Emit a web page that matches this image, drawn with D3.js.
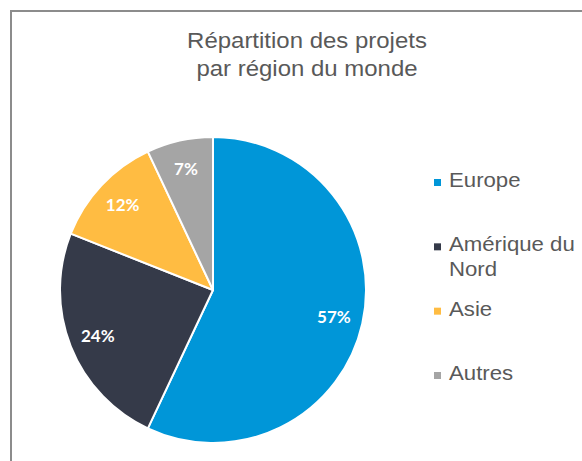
<!DOCTYPE html>
<html>
  <head>
    <meta charset="utf-8" />
    <script src="https://cdn.jsdelivr.net/npm/d3@7/dist/d3.min.js"></script>
    <style>
      * {
        margin: 0;
        padding: 0;
        box-sizing: border-box;
      }
      body {
        background: white;
        width: 582px;
        height: 461px;
        overflow: hidden;
      }
    </style>
  </head>
  <body>
    <script>
      const regions = ["Europe", "Amérique du Nord", "Asie", "Autres"];
      const shares = [57, 24, 12, 7];
      const colors = ["#0096d8", "#353a49", "#ffbc42", "#a5a5a5"];
      const legendLines = [["Europe"], ["Amérique du", "Nord"], ["Asie"], ["Autres"]];
      const titleLines = ["Répartition des projets", "par région du monde"];

      const w = 582;
      const h = 461;
      const cx = 213;
      const cy = 290;
      const r = 153;

      const svg = d3
        .select("body")
        .append("svg")
        .attr("width", w)
        .attr("height", h);

      // chart frame
      svg
        .append("rect")
        .attr("x", 11)
        .attr("y", 11)
        .attr("width", w + 20)
        .attr("height", h + 20)
        .attr("fill", "white")
        .attr("stroke", "#8c8c8c")
        .attr("stroke-width", 2);

      svg
        .append("g")
        .attr("transform", "translate(307,0) scale(1.09,1)")
        .append("text")
        .attr("text-anchor", "middle")
        .attr("font-family", "'Liberation Sans', Arial, sans-serif")
        .attr("font-size", 22)
        .attr("fill", "#595959")
        .selectAll("tspan")
        .data(titleLines)
        .enter()
        .append("tspan")
        .attr("x", 0)
        .attr("y", (d, i) => 48 + i * 28)
        .text((d) => d);

      const pie = d3.pie().sort(null).value((d) => d);
      const arcs = pie(shares);
      const arc = d3.arc().innerRadius(0).outerRadius(r);
      const labelArc = d3.arc().innerRadius(r * 0.81).outerRadius(r * 0.81);

      const g = svg
        .append("g")
        .attr("transform", "translate(" + cx + "," + cy + ")");

      g.selectAll("path")
        .data(arcs)
        .enter()
        .append("path")
        .attr("d", arc)
        .attr("fill", (d, i) => colors[i])
        .attr("stroke", "white")
        .attr("stroke-width", 2)
        .attr("stroke-linejoin", "round");

      g.selectAll(".lbl")
        .data(arcs)
        .enter()
        .append("text")
        .attr("class", "lbl")
        .attr("transform", (d) => "translate(" + labelArc.centroid(d) + ")")
        .attr("text-anchor", "middle")
        .attr("dy", "0.36em")
        .attr("font-family", "Lato, sans-serif")
        .attr("font-weight", "bold")
        .attr("font-size", 17)
        .attr("fill", "white")
        .text((d) => d.data + "%");

      // legend
      const legendY = d3
        .scalePoint()
        .domain(regions)
        .range([187, 380]);

      const item = svg
        .selectAll(".legend")
        .data(regions)
        .enter()
        .append("g")
        .attr("class", "legend")
        .attr("transform", (d) => "translate(434," + legendY(d) + ")");

      item
        .append("rect")
        .attr("x", 0)
        .attr("y", -8)
        .attr("width", 7)
        .attr("height", 7)
        .attr("fill", (d, i) => colors[i]);

      item
        .append("g")
        .attr("transform", "translate(15,0) scale(1.11,1)")
        .append("text")
        .attr("font-family", "'Liberation Sans', Arial, sans-serif")
        .attr("font-size", 20)
        .attr("fill", "#595959")
        .selectAll("tspan")
        .data((d, i) => legendLines[i])
        .enter()
        .append("tspan")
        .attr("x", 0)
        .attr("y", (d, i) => i * 25)
        .text((d) => d);
    </script>
  </body>
</html>
